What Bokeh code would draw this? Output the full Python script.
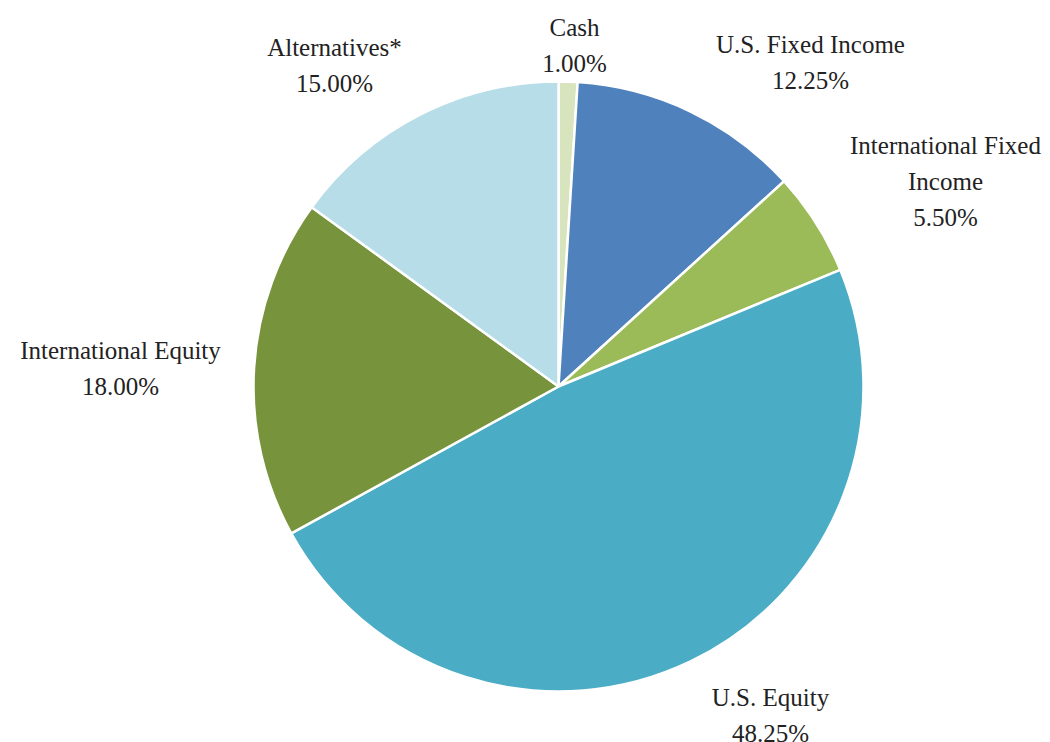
import math
from bokeh.plotting import figure
from bokeh.models import Range1d, ColumnDataSource
from bokeh.core.properties import value
from bokeh.embed import file_html
from bokeh.resources import INLINE

categories = ["Cash", "U.S. Fixed Income", "International Fixed\nIncome", "U.S. Equity",
              "International Equity", "Alternatives*"]
values = [1.00, 12.25, 5.50, 48.25, 18.00, 15.00]
colors = ["#d7e4bd", "#4f81bd", "#9bbb59", "#4bacc6", "#77933c", "#b7dee8"]
# label anchor (center x, first line center y) in pixel coords from top-left
label_pos = [(574, 27), (810, 44), (945, 145), (770, 697), (120, 350), (334, 47)]

W, H = 1050, 742
cx, cy, r = 558, H - 386, 305

total = sum(values)
starts, ends = [], []
cum = 0.0
for v in values:
    starts.append(math.pi / 2 - 2 * math.pi * cum / total)
    cum += v
    ends.append(math.pi / 2 - 2 * math.pi * cum / total)

src = ColumnDataSource(dict(start=starts, end=ends, color=colors))

p = figure(width=W, height=H, x_range=Range1d(0, W), y_range=Range1d(0, H),
           output_backend="svg", toolbar_location=None, min_border=0)
p.axis.visible = False
p.grid.visible = False
p.outline_line_color = None
p.background_fill_color = "white"

p.wedge(x=cx, y=cy, radius=r, start_angle="start", end_angle="end", direction="clock",
        fill_color="color", line_color="white", line_width=2.5, source=src)

lx, ly, lt = [], [], []
for name, v, (x0, y0) in zip(categories, values, label_pos):
    lines = name.split("\n") + [f"{v:.2f}%"]
    for i, t in enumerate(lines):
        lx.append(x0)
        ly.append(H - (y0 + 36 * i))
        lt.append(t)

p.text(x=lx, y=ly, text=lt, text_align="center", text_baseline="middle",
       text_font=value("Liberation Serif"), text_font_size="25px", text_color="#222222")

open("out.html", "w").write(file_html(p, INLINE))
